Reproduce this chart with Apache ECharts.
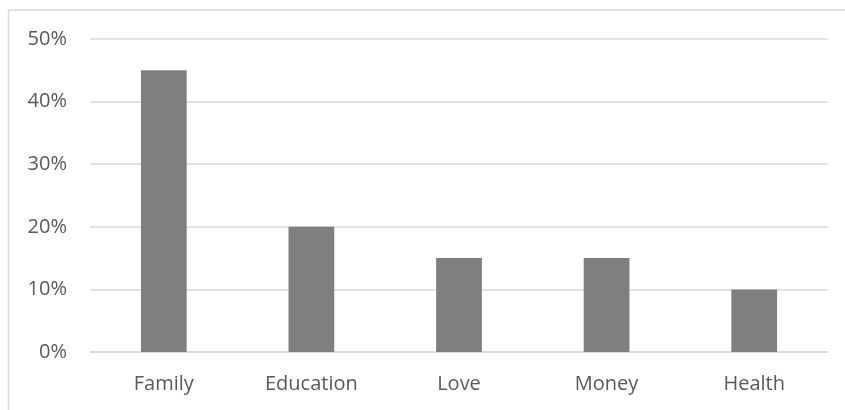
<!DOCTYPE html>
<html>
<head>
<meta charset="utf-8">
<script src="https://cdn.jsdelivr.net/npm/echarts@6/dist/echarts.min.js"></script>
<style>html,body{margin:0;padding:0;background:#fff}#c{width:845px;height:410px}</style>
</head>
<body>
<div id="c"></div>
<script>
const categories = ['Family', 'Education', 'Love', 'Money', 'Health'];
const values = [45, 20, 15, 15, 10];
const yMin = 0, yMax = 50, yStep = 10;

const chart = echarts.init(document.getElementById('c'), null, {renderer: 'canvas'});
const font = '"Open Sans", sans-serif';
chart.setOption({
  animation: false,
  backgroundColor: '#fff',
  graphic: [
    {type: 'line', shape: {x1: 8.5, y1: 10, x2: 845, y2: 10}, style: {stroke: '#d9d9d9', lineWidth: 1.5}},
    {type: 'line', shape: {x1: 8.5, y1: 10, x2: 8.5, y2: 410}, style: {stroke: '#d9d9d9', lineWidth: 1.5}}
  ],
  grid: {left: 90, right: 17, top: 39, bottom: 58, containLabel: false},
  xAxis: {
    type: 'category',
    data: categories,
    axisLine: {show: true, lineStyle: {color: '#d9d9d9', width: 1.5}},
    axisTick: {show: false},
    axisLabel: {color: '#595959', fontSize: 20, fontFamily: font, margin: 22}
  },
  yAxis: {
    type: 'value',
    min: yMin, max: yMax, interval: yStep,
    axisLine: {show: false},
    axisTick: {show: false},
    splitLine: {lineStyle: {color: '#d9d9d9', width: 1.5}},
    axisLabel: {color: '#595959', fontSize: 20, fontFamily: font, margin: 23, formatter: v => v + '%'}
  },
  series: [{
    type: 'bar',
    data: values,
    barWidth: '31%',
    itemStyle: {color: '#7f7f7f'}
  }]
});
</script>
</body>
</html>
